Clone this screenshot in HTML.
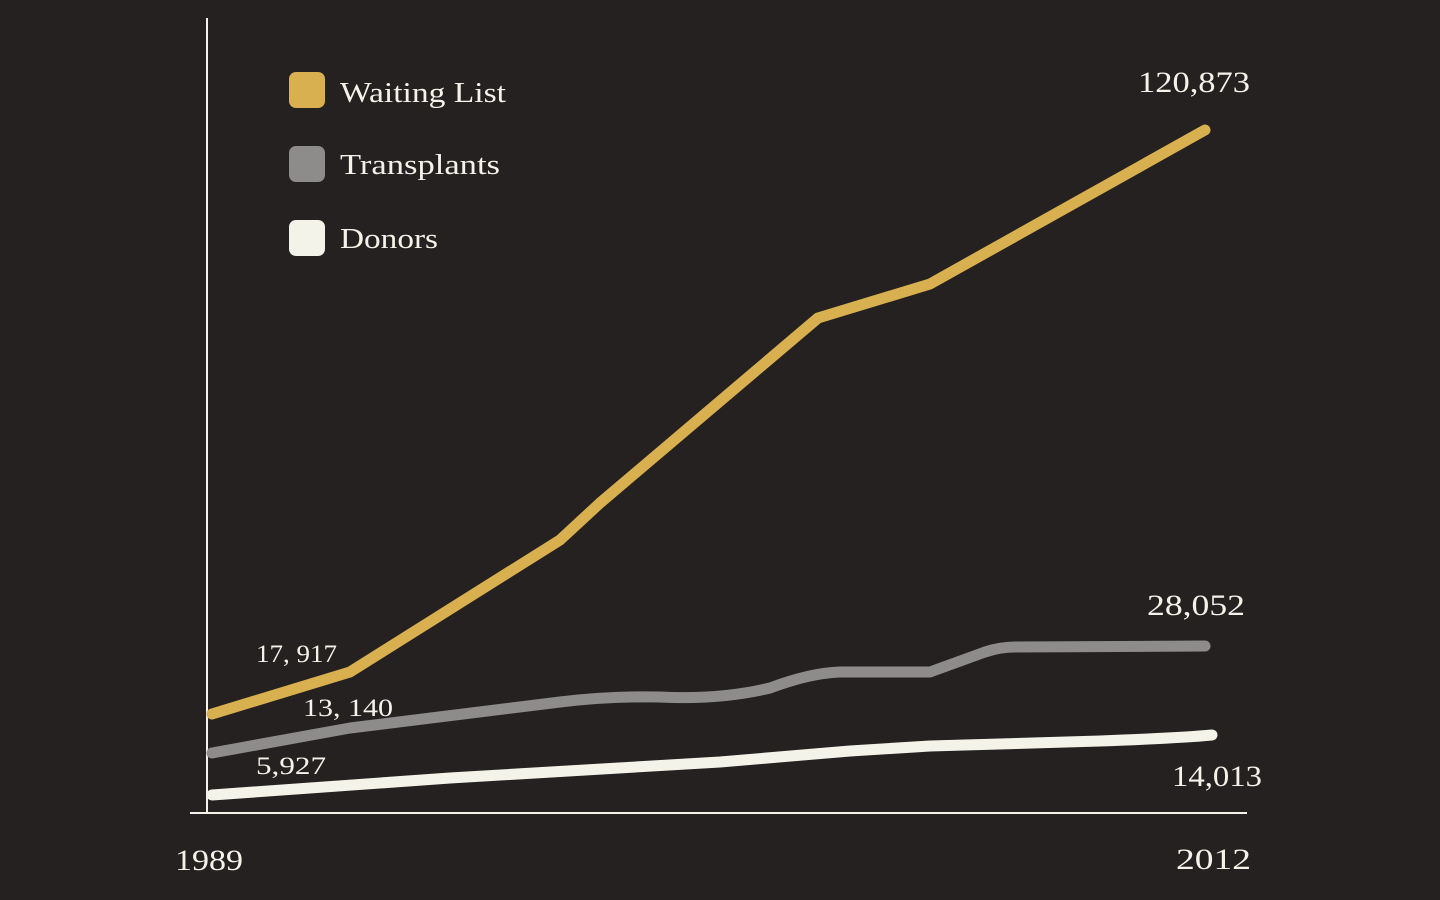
<!DOCTYPE html>
<html><head><meta charset="utf-8"><style>
html,body{margin:0;padding:0;background:#252120;}
svg{display:block}
text{font-family:"Liberation Serif",serif;fill:#f4f3ea;}
</style></head><body>
<svg width="1440" height="900" viewBox="0 0 1440 900">
<rect width="1440" height="900" fill="#252120"/>
<line x1="207" y1="18" x2="207" y2="813" stroke="#f4f3ea" stroke-width="2"/>
<line x1="190" y1="813" x2="1247" y2="813" stroke="#f4f3ea" stroke-width="2"/>
<g fill="none" stroke-width="11" stroke-linecap="round" stroke-linejoin="round">
<polyline stroke="#d9b04f" points="212,714 350,672 560,540 600,503 818,318 930,284 1205,130"/>
<path stroke="#8e8c8a" d="M212,753 L350,728 L560,702 Q610,696 660,697 Q720,700 770,688 Q810,673 840,672 L930,672 Q960,661 985,652 Q1000,647 1015,647 L1205,646"/>
<path stroke="#f4f3ea" d="M212,795 L450,778 L720,762 L850,751 L930,746 L1100,741 Q1180,738 1212,735"/>
</g>
<rect x="289" y="72" width="36" height="36" rx="7" fill="#d9b04f"/>
<rect x="289" y="146" width="36" height="36" rx="7" fill="#8e8c8a"/>
<rect x="289" y="220" width="36" height="36" rx="7" fill="#f4f3ea"/>
<g lengthAdjust="spacingAndGlyphs">
<text x="340" y="102" font-size="28" textLength="166" lengthAdjust="spacingAndGlyphs">Waiting List</text>
<text x="340" y="174" font-size="28" textLength="160" lengthAdjust="spacingAndGlyphs">Transplants</text>
<text x="340" y="248" font-size="28" textLength="98" lengthAdjust="spacingAndGlyphs">Donors</text>
<text x="1138" y="92" font-size="30" textLength="112" lengthAdjust="spacingAndGlyphs">120,873</text>
<text x="1147" y="615" font-size="30" textLength="98" lengthAdjust="spacingAndGlyphs">28,052</text>
<text x="1172" y="786" font-size="30" textLength="90" lengthAdjust="spacingAndGlyphs">14,013</text>
<text x="256" y="662" font-size="25" textLength="81" lengthAdjust="spacingAndGlyphs">17, 917</text>
<text x="303" y="716" font-size="25" textLength="90" lengthAdjust="spacingAndGlyphs">13, 140</text>
<text x="256" y="774" font-size="25" textLength="70" lengthAdjust="spacingAndGlyphs">5,927</text>
<text x="175" y="870" font-size="30" textLength="68" lengthAdjust="spacingAndGlyphs">1989</text>
<text x="1176" y="869" font-size="30" textLength="75" lengthAdjust="spacingAndGlyphs">2012</text>
</g>
</svg>
</body></html>
